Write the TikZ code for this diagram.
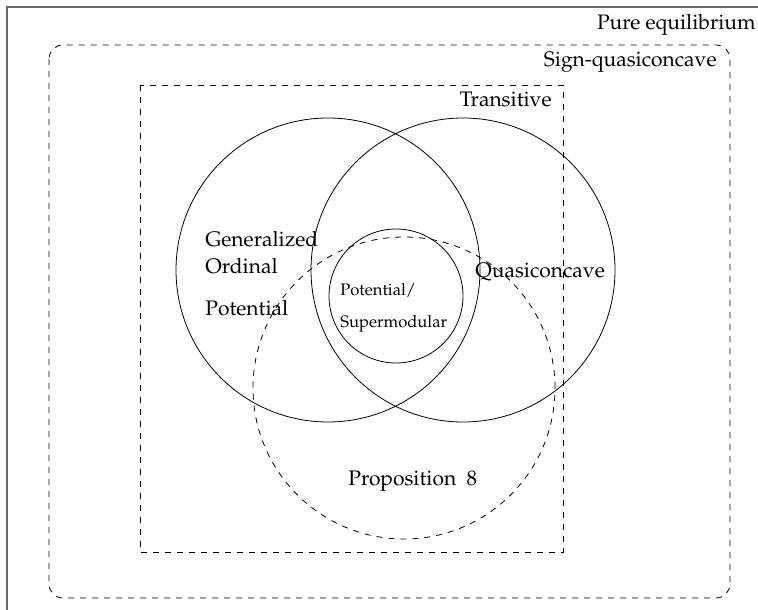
\documentclass[tikz,border=0pt]{standalone}
\usepackage[T1]{fontenc}
\usepackage{mathpazo}
\usetikzlibrary{positioning}

\tikzset{
	setbox/.style={draw, circle, inner sep=0pt, outer sep=0pt, minimum size=#1},
	lbl/.style={inner sep=0pt, anchor=base west, font=\fontsize{10.5}{13}\selectfont},
	smalllbl/.style={inner sep=0pt, anchor=base west, font=\fontsize{8.3}{10}\selectfont},
}

\begin{document}
\begin{tikzpicture}[x=0.5pt, y=-0.5pt]
	\useasboundingbox (0,0) rectangle (758,609);
	% outer frame, cut by the page
	\draw[gray!80!black, line width=0.6pt] (7,640) -- (7,7) -- (780,7);
	\node[lbl, anchor=base east] (pure) at (756,30) {Pure equilibrium};
	
	\draw[dashed, rounded corners=7pt] (49,45) rectangle (730,598);
	\node[lbl, anchor=base east] (signq) at (717,67) {Sign-quasiconcave};
	
	\draw[dashed] (140,85) rectangle (563,552);
	\node[lbl, anchor=base east] (trans) at (552,107) {Transitive};
	
	\node[setbox=152pt] (gop) at (328,270) {};
	\node[setbox=152pt] (qc) at (463,270) {};
	\node[setbox=67pt] (pot) at (396,296) {};
	\node[setbox=151pt, dashed] (prop) at (404,388) {};
	
	\node[lbl] (gen) at (205,246) {Generalized};
	\node[lbl] (ord) at (205,273) {Ordinal};
	\node[lbl] (potl) at (205,315) {Potential};
	\node[smalllbl] (pots) at (340,295) {Potential/};
	\node[smalllbl] (sup) at (340,327) {Supermodular};
	\node[lbl] (quasi) at (475,277) {Quasiconcave};
	\node[lbl] (prop8) at (348,485) {Proposition\ \ 8};
\end{tikzpicture}
\end{document}
